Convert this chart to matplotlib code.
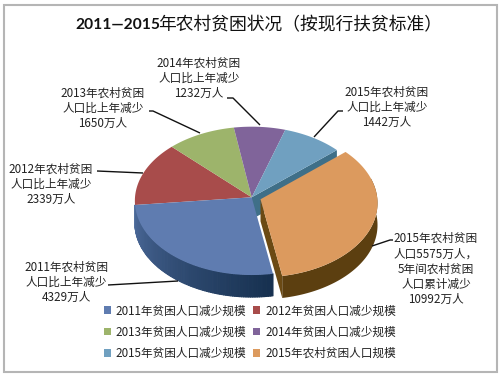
import numpy as np
import matplotlib
matplotlib.use("Agg")
import matplotlib.pyplot as plt
from matplotlib.patches import Polygon, Rectangle, Patch
from matplotlib.collections import PolyCollection

plt.rcParams['font.family'] = ['Noto Sans CJK SC', 'DejaVu Sans']

title_years = "2011—2015"
title_rest = "年农村贫困状况（按现行扶贫标准）"
legend_labels = ["2011年贫困人口减少规模", "2012年贫困人口减少规模", "2013年贫困人口减少规模",
                 "2014年贫困人口减少规模", "2015年贫困人口减少规模", "2015年农村贫困人口规模"]
values = [4329, 2339, 1650, 1232, 1442, 5575]
colors = ["#5f7cb0", "#a84c4b", "#9db46b", "#80649a", "#70a0c0", "#dc9a5e"]
explode = [0, 0, 0, 0, 0, 0.08]
data_labels = ["2011年农村贫困\n人口比上年减少\n4329万人",
               "2012年农村贫困\n人口比上年减少\n2339万人",
               "2013年农村贫困\n人口比上年减少\n1650万人",
               "2014年农村贫困\n人口比上年减少\n1232万人",
               "2015年农村贫困\n人口比上年减少\n1442万人",
               "2015年农村贫困\n人口5575万人，\n5年间农村贫困\n人口累计减少\n10992万人"]
label_pos = [(66, 282), (51, 184), (103, 108), (199, 78), (387, 107), (436, 269)]
leaders = [[(108, 285), (178, 281)],
           [(97, 171), (143, 173)],
           [(149, 111), (153, 111), (200, 133)],
           [(227, 98), (233, 98), (260, 125)],
           [(343, 111), (338, 111), (314, 137)],
           [(393, 240), (390, 240), (372, 246)]]

CX, CY, RX, RY, K, DEPTH = 251.7, 197.3, 116.7, 74.0, 0.048, 22.0
START = -80.0


def project(x, y):
    w = 1 + K * y
    return CX + RX * x / w, CY - RY * y / w


fig = plt.figure(figsize=(5, 3.78), dpi=100)
ax = fig.add_axes([0, 0, 1, 1])
ax.set_xlim(0, 500)
ax.set_ylim(378, 0)
ax.axis("off")
ax.add_patch(Rectangle((3.5, 5), 493, 367, fc="white", ec="#b5b5b5", lw=1.5, zorder=0))

fracs = np.array(values, float) / sum(values)
sweeps = fracs * 360
ends = START - np.cumsum(sweeps)          # clockwise from START
starts = ends + sweeps


def mix(c1, c2, t):
    a, b = np.array(matplotlib.colors.to_rgb(c1)), np.array(matplotlib.colors.to_rgb(c2))
    return tuple(a + (b - a) * t)


# draw order: light-blue cut face, sides, then the top faces
for i in [1, 2, 3, 4, 0, 5]:
    bis = np.radians((starts[i] + ends[i]) / 2)
    ox, oy = explode[i] * np.cos(bis), explode[i] * np.sin(bis)
    th = np.linspace(ends[i], starts[i], 90)
    rad = np.radians(th)
    px, py = project(ox + np.cos(rad), oy + np.sin(rad))
    ax0, ay0 = project(ox, oy)

    if i == 4:   # face exposed by the pulled-out slice
        rimx, rimy = project(np.cos(np.radians(ends[4])), np.sin(np.radians(ends[4])))
        ax.add_patch(Polygon([(ax0, ay0), (rimx, rimy), (rimx, rimy + DEPTH), (ax0, ay0 + DEPTH)],
                             fc="#3f6f88", ec="none", zorder=2))
    if i == 5:   # outer wall and cut face of the pulled-out slice
        sx, sy = project(ox + np.cos(np.radians(ends[5])), oy + np.sin(np.radians(ends[5])))
        ax.add_patch(Polygon([(ax0, ay0), (sx, sy), (sx, sy + DEPTH), (ax0, ay0 + DEPTH)],
                             fc="#6b4a14", ec="none", zorder=4))
        mask = np.sin(rad) < 0.3
        wall = np.r_[np.c_[px[mask], py[mask]], np.c_[px[mask][::-1], py[mask][::-1] + DEPTH]]
        ax.add_patch(Polygon(wall, closed=True, fc="#5c3f10", ec="none", zorder=4))
    if i == 0:   # blue wall with its dark gradient
        quads, cols = [], []
        for j in range(len(th) - 1):
            quads.append([(px[j], py[j]), (px[j + 1], py[j + 1]),
                          (px[j + 1], py[j + 1] + DEPTH), (px[j], py[j] + DEPTH)])
            t = (th[j] - ends[0]) / sweeps[0]
            cols.append(mix("#4f6d9e", "#16304f", t ** 0.9))
        ax.add_collection(PolyCollection(quads, facecolors=cols, edgecolors=cols, linewidths=0.8, zorder=3))

    zt = 6 if i == 5 else 5
    ax.add_patch(Polygon(np.r_[[[ax0, ay0]], np.c_[px, py]], closed=True, fc=colors[i], ec="none", zorder=zt))

for path in leaders:
    xs, ys = zip(*path)
    ax.plot(xs, ys, color="#111111", lw=1.0, zorder=7, solid_capstyle="butt")

for txt, (x, y) in zip(data_labels, label_pos):
    ax.text(x, y, txt, ha="center", va="center", fontsize=8.4, color="#222222",
            linespacing=1.22, zorder=8)

ax.text(75, 25, title_years, ha="left", va="center", fontsize=11.2, fontweight="bold",
        family=["Lato", "DejaVu Sans"], color="#111111")
ax.text(158.5, 25, title_rest, ha="left", va="center", fontsize=12.8, color="#111111")

order = [0, 2, 4, 1, 3, 5]   # legend fills column by column; the reference reads row by row
handles = [Patch(fc=colors[k], ec="none", label=legend_labels[k]) for k in order]
leg = ax.legend(handles=handles, ncols=2, loc="upper left", bbox_to_anchor=(0.207, 0.195),
                frameon=False, fontsize=8.4, handlelength=0.62, handleheight=0.62,
                handletextpad=0.42, columnspacing=0.6, labelspacing=0.72, borderpad=0, borderaxespad=0,
                labelcolor="#222222")

fig.savefig("out.png", dpi=100)
